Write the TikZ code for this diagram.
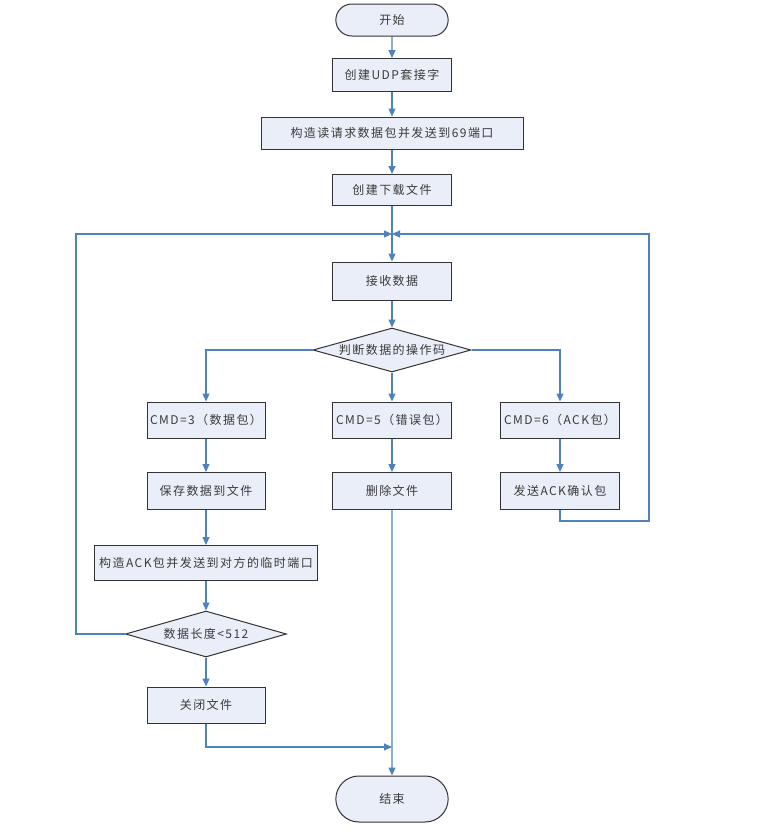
\documentclass[tikz,border=0pt]{standalone}
\usepackage{fontspec}
\newfontfamily\cjk{Noto Sans CJK SC}[LetterSpace=12]
\usetikzlibrary{arrows.meta,shapes.geometric,shapes.misc}
\definecolor{boxfill}{HTML}{E9EEF8}
\definecolor{flowblue}{HTML}{4F81BD}
\definecolor{inkgray}{HTML}{3A3A3A}

\begin{document}
\begin{tikzpicture}[
    x=1pt, y=-1pt,
    every node/.style={font=\cjk\fontsize{12}{14}\selectfont, text=inkgray},
    box/.style={draw=black!80, line width=1pt, fill=boxfill, minimum width=119pt, minimum height=33pt, inner sep=2pt},
    term/.style={rounded rectangle, draw=black!80, line width=1pt, fill=boxfill, minimum width=119pt, minimum height=32pt},
    decide/.style={diamond, aspect=3.6, draw=black!80, line width=1pt, fill=boxfill, inner sep=-3pt},
    flow/.style={flowblue, line width=1.1pt, -{Triangle[length=8pt, width=7pt]}},
    plain/.style={flowblue, line width=1.1pt},
  ]
  \useasboundingbox (0,0) rectangle (757,836);

  % --- main column -------------------------------------------------------
  \node[term] (start) at (392,20) {开始};
  \node[box] (udp) at (392,75) {创建UDP套接字};
  \node[box, minimum width=262pt, minimum height=32pt] (req) at (392,133) {构造读请求数据包并发送到69端口};
  \node[box, minimum height=31pt] (file) at (392,190) {创建下载文件};
  \node[box, minimum height=38pt] (recv) at (392,281) {接收数据};
  \node[decide, minimum width=158pt, minimum height=44pt] (op) at (392,350) {判断数据的操作码};

  % --- three opcode branches ---------------------------------------------
  \node[box, minimum width=118pt, minimum height=36pt] (cmd3) at (206,420) {CMD=3（数据包）};
  \node[box, minimum height=36pt] (cmd5) at (392,420) {CMD=5（错误包）};
  \node[box, minimum height=36pt] (cmd6) at (560,420) {CMD=6（ACK包）};
  \node[box, minimum width=118pt, minimum height=37pt] (save) at (206,491) {保存数据到文件};
  \node[box, minimum height=37pt] (del) at (392,491) {删除文件};
  \node[box, minimum height=37pt] (sendack) at (560,491) {发送ACK确认包};
  \node[box, minimum width=223pt, minimum height=35pt] (ackpkt) at (206,563) {构造ACK包并发送到对方的临时端口};
  \node[decide, minimum width=161pt, minimum height=46pt] (lenchk) at (206,634) {数据长度<512};
  \node[box, minimum width=118pt, minimum height=36pt] (close) at (206,705) {关闭文件};
  \node[term, minimum height=46pt] (end) at (392,799) {结束};

  % --- loop and join points ----------------------------------------------
  \coordinate (merge) at (392,234);
  \coordinate (loopL) at (76,234);
  \coordinate (loopR) at (649,234);
  \coordinate (ackturn) at (649,521);
  \coordinate (join) at (392,747);

  % --- connectors --------------------------------------------------------
  \draw[flow] (start) -- (udp);
  \draw[flow] (udp) -- (req);
  \draw[flow] (req) -- (file);
  \draw[flow] (file) -- (recv);
  \draw[flow] (recv) -- (op);
  \draw[flow] (op.west) -| (cmd3.north);
  \draw[flow] (op) -- (cmd5);
  \draw[flow] (op.east) -| (cmd6.north);
  \draw[flow] (cmd3) -- (save);
  \draw[flow] (cmd5) -- (del);
  \draw[flow] (cmd6) -- (sendack);
  \draw[flow] (save) -- (ackpkt);
  \draw[flow] (ackpkt) -- (lenchk);
  \draw[flow] (lenchk) -- (close);
  \draw[flow] (del) -- (end);
  \draw[flow] (close.south) |- (join);
  \draw[flow] (lenchk.west) -| (loopL) -- (merge);
  \draw[flow] (sendack.south) |- (ackturn) -- (loopR) -- (merge);

\end{tikzpicture}
\end{document}
